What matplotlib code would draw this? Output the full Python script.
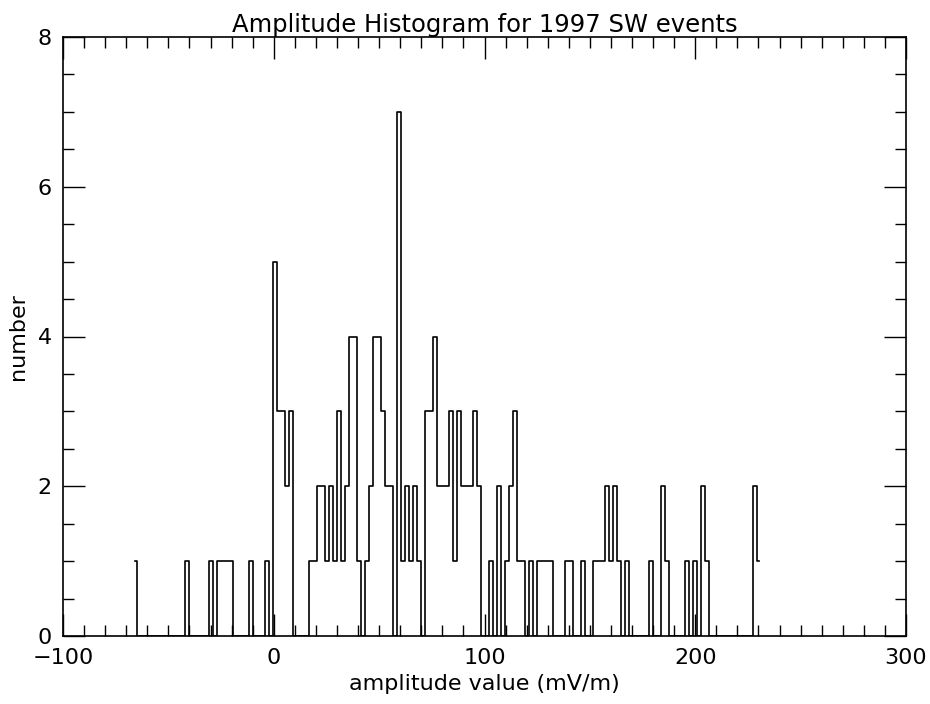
import numpy as np
import matplotlib.pyplot as plt
from matplotlib.ticker import MultipleLocator

# histogram of event amplitudes (mV/m)
bin_start = -66.05
bin_width = 1.9
counts = [1, 0, 0, 0, 0, 0, 0, 0, 0, 0, 0, 0, 0,
          1, 0, 0, 0, 0, 0, 1, 0,
          1, 1, 1, 1, 0, 0, 0, 0, 1, 0, 0, 0, 1, 0,
          5, 3, 3, 2, 3, 0, 0, 0, 0,
          1, 1, 2, 2, 1, 2, 1, 3, 1, 2, 4, 4, 1, 0,
          1, 2, 4, 4, 3, 2, 2, 0, 7, 1, 2, 1, 2, 1, 0,
          3, 3, 4, 2, 2, 2, 3, 1, 3, 2, 2, 2, 3, 2, 0, 0,
          1, 0, 2, 0, 1, 2, 3, 1, 1, 0, 1, 0,
          1, 1, 1, 1, 0, 0, 0, 1, 1, 0, 0, 1, 0, 0,
          1, 1, 1, 2, 1, 2, 1, 0, 1, 0, 0, 0, 0, 0,
          1, 0, 0, 2, 1, 0, 0, 0, 0, 1, 0, 1, 0, 2, 1,
          0, 0, 0, 0, 0, 0, 0, 0, 0, 0, 0, 2, 1]

title = 'Amplitude Histogram for 1997 SW events'
xlabel = 'amplitude value (mV/m)'
ylabel = 'number'

centers = bin_start + bin_width * np.arange(len(counts))

plt.rcParams['font.family'] = ['DejaVu Sans']

fig = plt.figure(figsize=(9.3, 7.04), dpi=100)
ax = fig.add_axes([63/930, 1 - 636/704, (906 - 63)/930, (636 - 37)/704])

# IDL psym=10 style: steps centred on the bins, half bins at the ends
ax.step(centers, counts, where='mid', color='black', lw=1.2)

ax.set_xlim(-100, 300)
ax.set_ylim(0, 8)
ax.xaxis.set_major_locator(MultipleLocator(100))
ax.xaxis.set_minor_locator(MultipleLocator(10))
ax.yaxis.set_major_locator(MultipleLocator(2))
ax.yaxis.set_minor_locator(MultipleLocator(0.5))

ax.tick_params(which='both', direction='in', top=True, right=True,
               width=1.0, color='black')
ax.tick_params(which='major', length=16, labelsize=16)
ax.tick_params(which='minor', length=8)
ax.tick_params(axis='x', pad=9)
ax.tick_params(axis='y', pad=8)

for s in ax.spines.values():
    s.set_linewidth(1.2)

ax.set_title(title, fontsize=17.5, pad=3)
ax.set_xlabel(xlabel, fontsize=16, labelpad=4)
ax.set_ylabel(ylabel, fontsize=16, labelpad=7)

fig.savefig('out.png', dpi=100)
